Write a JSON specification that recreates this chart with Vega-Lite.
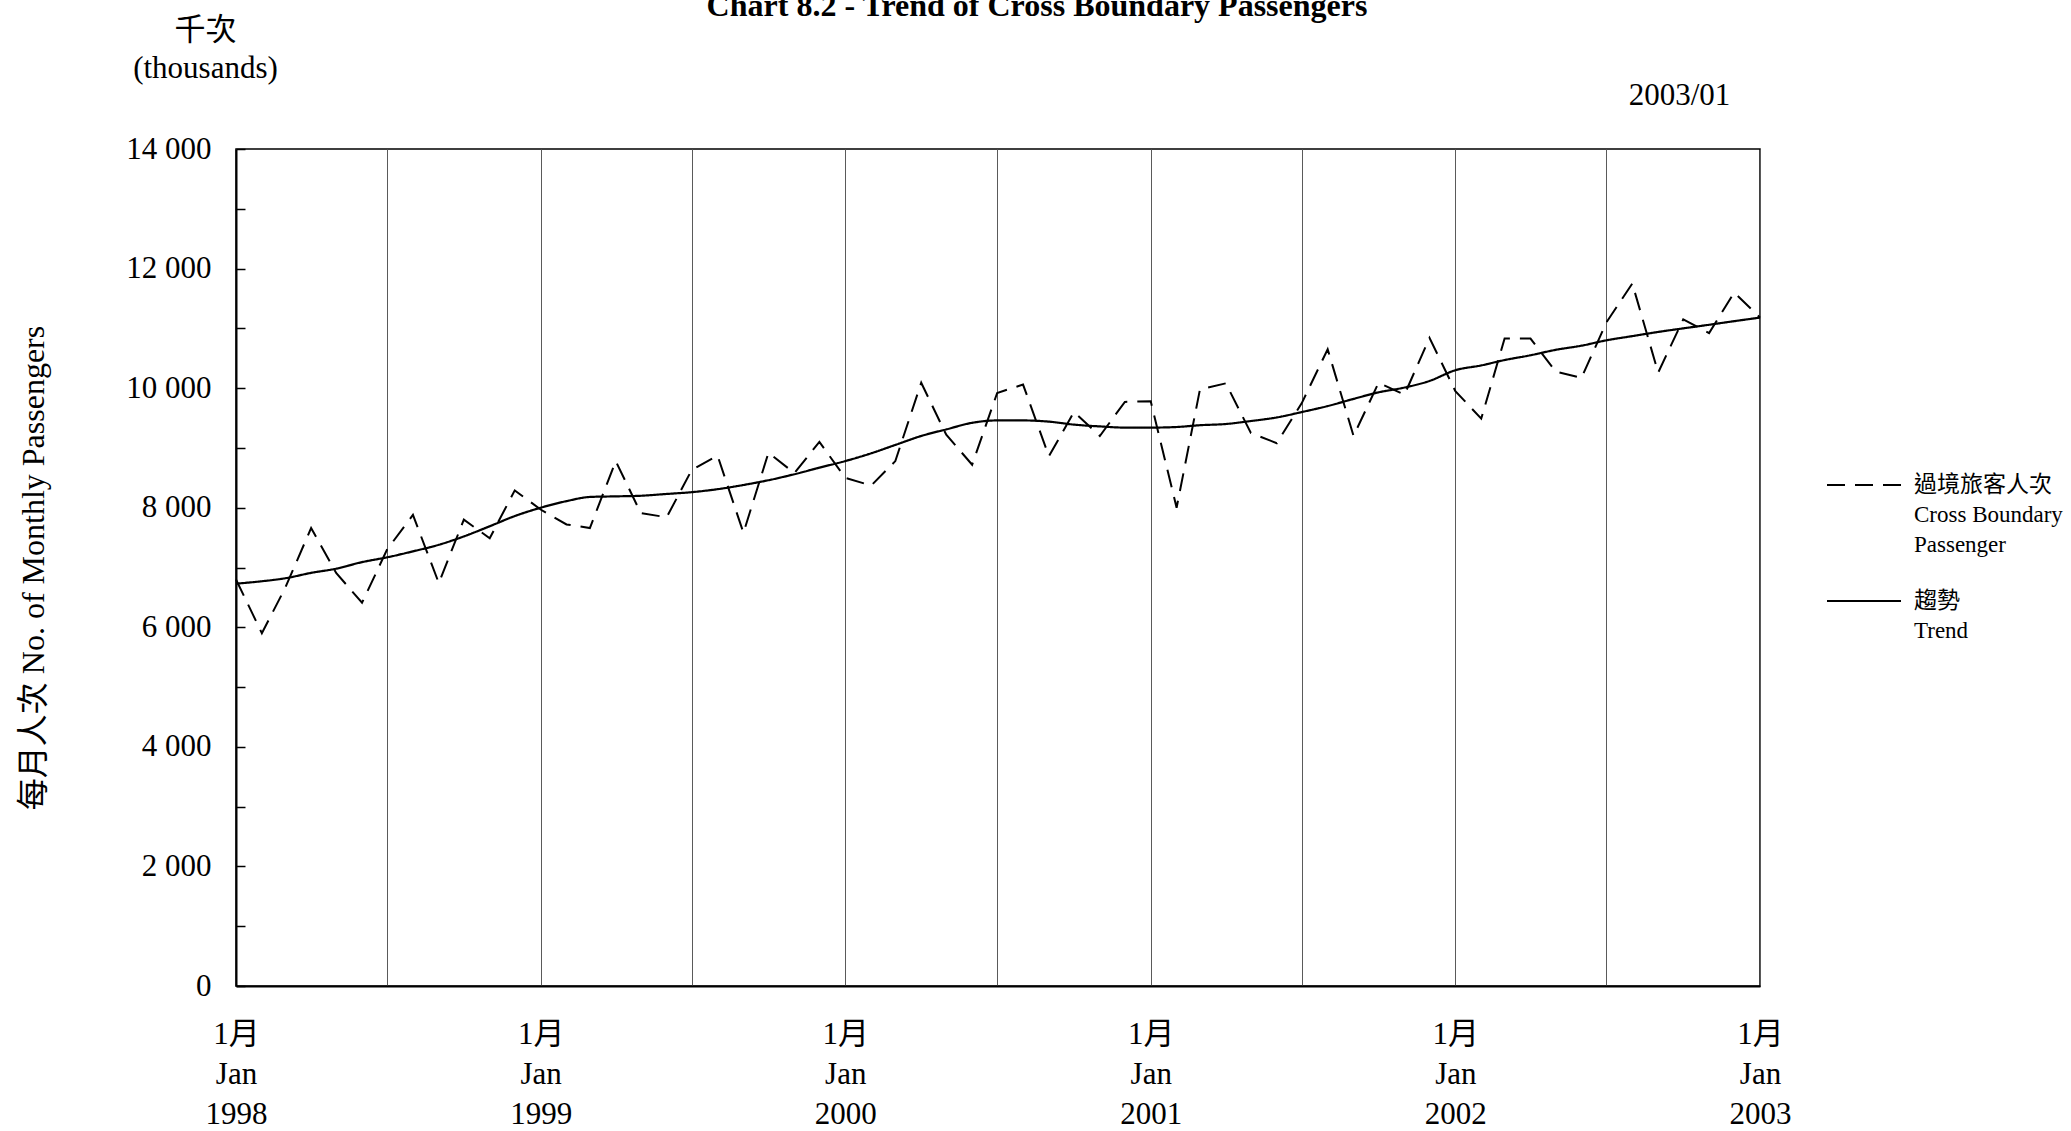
{
  "$schema": "https://vega.github.io/schema/vega-lite/v6.json",
  "width": 1524,
  "height": 837,
  "autosize": {"type": "none"},
  "padding": {"left": 236, "top": 149, "right": 311, "bottom": 145},
  "background": "white",
  "title": {
    "text": "Chart 8.2 - Trend of Cross Boundary Passengers",
    "font": "Liberation Serif",
    "fontSize": 32,
    "fontWeight": "bold",
    "color": "black",
    "anchor": "middle",
    "frame": "group",
    "dx": 39,
    "offset": 0,
    "baseline": "alphabetic",
    "dy": 34
  },
  "data": {
    "values": [
      {"date": "1998-01-01", "passengers": 6800, "trend": 6730},
      {"date": "1998-02-01", "passengers": 5900, "trend": 6770},
      {"date": "1998-03-01", "passengers": 6660, "trend": 6820},
      {"date": "1998-04-01", "passengers": 7660, "trend": 6910},
      {"date": "1998-05-01", "passengers": 6910, "trend": 6980},
      {"date": "1998-06-01", "passengers": 6410, "trend": 7090},
      {"date": "1998-07-01", "passengers": 7300, "trend": 7170},
      {"date": "1998-08-01", "passengers": 7880, "trend": 7270},
      {"date": "1998-09-01", "passengers": 6740, "trend": 7380},
      {"date": "1998-10-01", "passengers": 7800, "trend": 7520},
      {"date": "1998-11-01", "passengers": 7490, "trend": 7690},
      {"date": "1998-12-01", "passengers": 8290, "trend": 7860},
      {"date": "1999-01-01", "passengers": 7970, "trend": 8000},
      {"date": "1999-02-01", "passengers": 7720, "trend": 8110},
      {"date": "1999-03-01", "passengers": 7660, "trend": 8180},
      {"date": "1999-04-01", "passengers": 8780, "trend": 8190},
      {"date": "1999-05-01", "passengers": 7910, "trend": 8200},
      {"date": "1999-06-01", "passengers": 7840, "trend": 8230},
      {"date": "1999-07-01", "passengers": 8630, "trend": 8260},
      {"date": "1999-08-01", "passengers": 8870, "trend": 8310},
      {"date": "1999-09-01", "passengers": 7580, "trend": 8380},
      {"date": "1999-10-01", "passengers": 8920, "trend": 8460},
      {"date": "1999-11-01", "passengers": 8580, "trend": 8560},
      {"date": "1999-12-01", "passengers": 9100, "trend": 8670},
      {"date": "2000-01-01", "passengers": 8500, "trend": 8780},
      {"date": "2000-02-01", "passengers": 8370, "trend": 8910},
      {"date": "2000-03-01", "passengers": 8780, "trend": 9050},
      {"date": "2000-04-01", "passengers": 10090, "trend": 9200},
      {"date": "2000-05-01", "passengers": 9220, "trend": 9310},
      {"date": "2000-06-01", "passengers": 8720, "trend": 9420},
      {"date": "2000-07-01", "passengers": 9920, "trend": 9460},
      {"date": "2000-08-01", "passengers": 10060, "trend": 9460},
      {"date": "2000-09-01", "passengers": 8860, "trend": 9440},
      {"date": "2000-10-01", "passengers": 9600, "trend": 9390},
      {"date": "2000-11-01", "passengers": 9200, "trend": 9360},
      {"date": "2000-12-01", "passengers": 9770, "trend": 9340},
      {"date": "2001-01-01", "passengers": 9780, "trend": 9340},
      {"date": "2001-02-01", "passengers": 8000, "trend": 9350},
      {"date": "2001-03-01", "passengers": 9980, "trend": 9380},
      {"date": "2001-04-01", "passengers": 10080, "trend": 9400},
      {"date": "2001-05-01", "passengers": 9250, "trend": 9450},
      {"date": "2001-06-01", "passengers": 9080, "trend": 9510},
      {"date": "2001-07-01", "passengers": 9750, "trend": 9600},
      {"date": "2001-08-01", "passengers": 10650, "trend": 9700},
      {"date": "2001-09-01", "passengers": 9200, "trend": 9820},
      {"date": "2001-10-01", "passengers": 10090, "trend": 9930},
      {"date": "2001-11-01", "passengers": 9890, "trend": 10010},
      {"date": "2001-12-01", "passengers": 10840, "trend": 10120},
      {"date": "2002-01-01", "passengers": 9950, "trend": 10300},
      {"date": "2002-02-01", "passengers": 9490, "trend": 10380},
      {"date": "2002-03-01", "passengers": 10830, "trend": 10470},
      {"date": "2002-04-01", "passengers": 10830, "trend": 10550},
      {"date": "2002-05-01", "passengers": 10280, "trend": 10640},
      {"date": "2002-06-01", "passengers": 10170, "trend": 10710},
      {"date": "2002-07-01", "passengers": 11100, "trend": 10800},
      {"date": "2002-08-01", "passengers": 11750, "trend": 10870},
      {"date": "2002-09-01", "passengers": 10260, "trend": 10940},
      {"date": "2002-10-01", "passengers": 11150, "trend": 11000},
      {"date": "2002-11-01", "passengers": 10920, "trend": 11060},
      {"date": "2002-12-01", "passengers": 11600, "trend": 11120},
      {"date": "2003-01-01", "passengers": 11180, "trend": 11180}
    ]
  },
  "layer": [
    {
      "mark": {"type": "line", "color": "black", "strokeWidth": 2},
      "encoding": {
        "x": {
          "field": "date",
          "type": "temporal",
          "scale": {
            "type": "utc",
            "domain": [
              {"year": 1998, "month": 1, "date": 1, "utc": true},
              {"year": 2003, "month": 1, "date": 1, "utc": true}
            ]
          },
          "axis": {
            "orient": "bottom",
            "values": [
              {"year": 1998, "month": 1, "date": 1, "utc": true},
              {"year": 1998, "month": 7, "date": 1, "utc": true},
              {"year": 1999, "month": 1, "date": 1, "utc": true},
              {"year": 1999, "month": 7, "date": 1, "utc": true},
              {"year": 2000, "month": 1, "date": 1, "utc": true},
              {"year": 2000, "month": 7, "date": 1, "utc": true},
              {"year": 2001, "month": 1, "date": 1, "utc": true},
              {"year": 2001, "month": 7, "date": 1, "utc": true},
              {"year": 2002, "month": 1, "date": 1, "utc": true},
              {"year": 2002, "month": 7, "date": 1, "utc": true},
              {"year": 2003, "month": 1, "date": 1, "utc": true}
            ],
            "grid": true,
            "gridColor": "#5a5a5a",
            "gridWidth": 1,
            "ticks": false,
            "domain": true,
            "domainColor": "black",
            "domainWidth": 2,
            "labelExpr": "utcmonth(datum.value) == 0 ? ['1月', 'Jan', '' + utcyear(datum.value)] : ''",
            "labelFont": "Liberation Serif, Noto Sans CJK TC",
            "labelFontSize": 31,
            "labelColor": "black",
            "labelLineHeight": 40,
            "labelPadding": 33,
            "labelBaseline": "top",
            "labelOverlap": false,
            "labelFlush": false,
            "labelBound": false,
            "title": null
          }
        },
        "y": {
          "field": "passengers",
          "type": "quantitative",
          "scale": {"domain": [0, 14000], "nice": false},
          "axis": {
            "orient": "left",
            "values": [0, 1000, 2000, 3000, 4000, 5000, 6000, 7000, 8000, 9000, 10000, 11000, 12000, 13000, 14000],
            "grid": false,
            "ticks": true,
            "tickSize": -9,
            "tickColor": "black",
            "tickWidth": 1.5,
            "domainColor": "black",
            "domainWidth": 2,
            "labelExpr": "datum.value % 2000 == 0 ? replace(format(datum.value, ','), ',', ' ') : ''",
            "labelFont": "Liberation Serif",
            "labelFontSize": 31,
            "labelColor": "black",
            "labelPadding": 34,
            "labelOverlap": false,
            "labelFlush": false,
            "title": "每月人次  No. of Monthly Passengers",
            "titleFont": "Liberation Serif, Noto Sans CJK TC",
            "titleFontSize": 32,
            "titleFontWeight": "normal",
            "titleColor": "black",
            "titleAngle": -90,
            "titleX": -203,
            "titleY": 418.5,
            "titleAlign": "center",
            "titleBaseline": "middle"
          }
        },
        "strokeDash": {
          "datum": "p",
          "type": "nominal",
          "scale": {"domain": ["p", "t"], "range": [[18, 10], [1, 0]]},
          "legend": {
            "orient": "none",
            "legendX": 1590,
            "legendY": 298,
            "title": null,
            "padding": 0,
            "labelOffset": 12,
            "rowPadding": 6,
            "symbolType": "stroke",
            "symbolSize": 5476,
            "symbolStrokeWidth": 2,
            "symbolStrokeColor": "black",
            "labelFont": "Liberation Serif, Noto Sans CJK TC",
            "labelFontSize": 23,
            "labelColor": "black",
            "labelLimit": 0,
            "labelBaseline": "middle",
            "labelExpr": "datum.value == 'p' ? ['過境旅客人次', 'Cross Boundary', '\u2002Passenger'] : ['趨勢', 'Trend', '']"
          }
        }
      }
    },
    {
      "mark": {"type": "line", "color": "black", "strokeWidth": 2.2, "interpolate": "monotone"},
      "encoding": {
        "x": {
          "field": "date",
          "type": "temporal",
          "axis": {
            "orient": "top",
            "domain": false,
            "ticks": false,
            "labels": false,
            "grid": false,
            "title": ["千次", "(thousands)"],
            "titleFont": "Liberation Serif, Noto Sans CJK TC",
            "titleFontSize": 31,
            "titleFontWeight": "normal",
            "titleColor": "black",
            "titleX": -31,
            "titleY": -119,
            "titleAlign": "center",
            "titleBaseline": "middle",
            "titleAngle": 0,
            "titleLineHeight": 38
          }
        },
        "y": {
          "field": "trend",
          "type": "quantitative",
          "axis": {
            "orient": "right",
            "domain": false,
            "ticks": false,
            "labels": false,
            "grid": false,
            "title": "2003/01",
            "titleFont": "Liberation Serif",
            "titleFontSize": 31,
            "titleFontWeight": "normal",
            "titleColor": "black",
            "titleAngle": 0,
            "titleX": -81,
            "titleY": -54,
            "titleAlign": "center",
            "titleBaseline": "middle"
          }
        },
        "strokeDash": {"datum": "t", "type": "nominal"}
      }
    }
  ],
  "resolve": {"axis": {"x": "independent", "y": "independent"}},
  "config": {
    "font": "Liberation Serif",
    "view": {"stroke": "black", "strokeWidth": 1.5},
    "style": {"guide-label": {"lineHeight": 30}}
  }
}
